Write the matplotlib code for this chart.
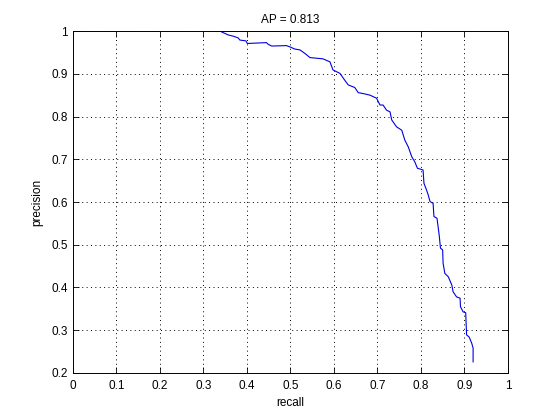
import matplotlib
matplotlib.use("Agg")
import matplotlib.pyplot as plt

# precision / recall points
recall = [0.338, 0.357, 0.369, 0.380, 0.384, 0.398, 0.401, 0.445, 0.449, 0.457,
          0.491, 0.499, 0.510, 0.522, 0.533, 0.545, 0.575, 0.591, 0.598, 0.614,
          0.625, 0.633, 0.648, 0.656, 0.671, 0.683, 0.698, 0.706, 0.713, 0.721,
          0.729, 0.733, 0.744, 0.756, 0.763, 0.771, 0.779, 0.786, 0.792, 0.805,
          0.807, 0.813, 0.817, 0.821, 0.828, 0.830, 0.837, 0.842, 0.845, 0.850,
          0.851, 0.855, 0.863, 0.871, 0.874, 0.882, 0.890, 0.891, 0.897, 0.903,
          0.905, 0.911, 0.917, 0.920, 0.920]
precision = [1.000, 0.991, 0.988, 0.984, 0.979, 0.977, 0.971, 0.973, 0.969, 0.965,
             0.966, 0.963, 0.958, 0.956, 0.948, 0.938, 0.935, 0.928, 0.909, 0.901,
             0.885, 0.874, 0.868, 0.856, 0.853, 0.850, 0.843, 0.827, 0.827, 0.815,
             0.811, 0.792, 0.776, 0.768, 0.745, 0.729, 0.706, 0.694, 0.679, 0.675,
             0.644, 0.628, 0.616, 0.601, 0.597, 0.566, 0.562, 0.523, 0.492, 0.488,
             0.457, 0.433, 0.425, 0.406, 0.390, 0.378, 0.375, 0.355, 0.343, 0.341,
             0.289, 0.284, 0.269, 0.258, 0.226]
ap = 0.813

plt.rcParams['font.family'] = ['Liberation Sans', 'DejaVu Sans']
plt.rcParams['font.size'] = 8

fig = plt.figure(figsize=(5.6, 4.2), dpi=100)
ax = fig.add_axes([0.13, 0.112, 0.777, 0.814])
ax.plot(recall, precision, color='#0000e0', linewidth=0.8)

ax.set_xlim(0, 1)
ax.set_ylim(0.2, 1)
ax.set_xticks([i / 10 for i in range(11)])
ax.set_yticks([i / 10 for i in range(2, 11)])
ax.set_xticklabels(['0', '0.1', '0.2', '0.3', '0.4', '0.5', '0.6', '0.7', '0.8', '0.9', '1'])
ax.set_yticklabels(['0.2', '0.3', '0.4', '0.5', '0.6', '0.7', '0.8', '0.9', '1'])
ax.tick_params(direction='in', top=True, right=True, length=4, width=0.6, labelsize=8.5)
ax.tick_params(axis='x', pad=5)
ax.grid(True, color='black', linestyle=(0, (1, 3.5)), linewidth=0.7)
for s in ax.spines.values():
    s.set_linewidth(0.7)

ax.set_xlabel('recall', fontsize=8.5, labelpad=4)
ax.set_ylabel('precision', fontsize=8.5, labelpad=6)
ax.set_title('AP = ' + str(ap), fontsize=8.5, pad=6)

fig.savefig('out.png', dpi=100)
